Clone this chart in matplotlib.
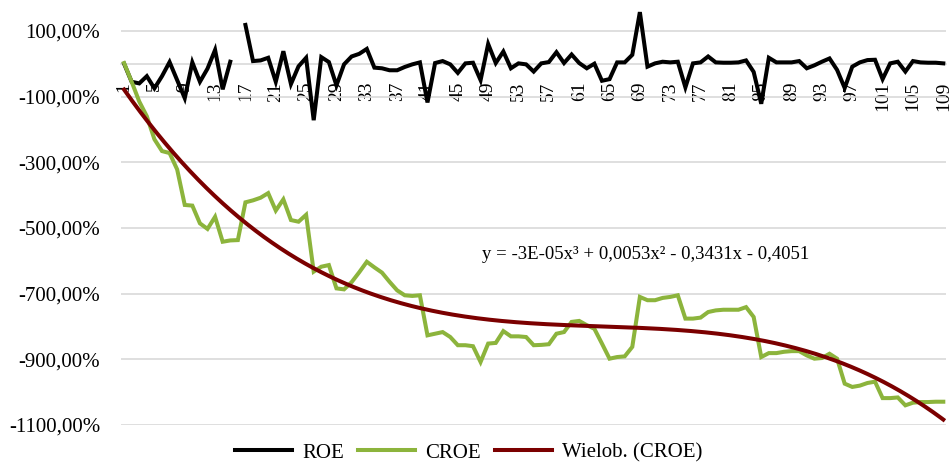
import numpy as np
import matplotlib
matplotlib.use("Agg")
import matplotlib.pyplot as plt

plt.rcParams['font.family'] = ['Liberation Serif', 'DejaVu Serif']

# data (values in %)
periods = list(range(1, 110))

roe = [0, -55, -60, -38, -75, -38, 5, -50, -105, 4,
       -55, -15, 42, -78, 6, np.nan, 118, 8, 10, 18,
       -55, 38, -62, -8, 18, -172, 20, 5, -66, -2,
       22, 30, 45, -12, -14, -20, -20, -10, -2, 4,
       -118, 2, 8, -2, -28, 1, 3, -50, 60, 2,
       37, -14, 1, -2, -24, 1, 5, 35, 2, 28,
       2, -14, 0, -52, -47, 4, 4, 27, 157, -9,
       1, 6, 4, 6, -72, 1, 4, 22, 4, 3,
       3, 4, 10, -25, -122, 18, 4, 4, 4, 8,
       -14, -5, 6, 16, -19, -74, -9, 4, 11, 12,
       -47, 1, 6, -24, 8, 4, 3, 3, 1]

croe = [2, -55, -115, -160, -230, -266, -272, -322, -430, -432,
        -486, -503, -466, -542, -538, -537, -422, -416, -408, -394,
        -447, -413, -476, -481, -460, -633, -618, -613, -684, -687,
        -665, -635, -603, -620, -636, -664, -690, -705, -707, -705,
        -827, -822, -817, -832, -857, -857, -860, -908, -852, -850,
        -814, -830, -830, -832, -857, -856, -854, -822, -817, -786,
        -783, -796, -807, -852, -898, -893, -891, -862, -710, -720,
        -720, -713, -710, -705, -776, -776, -773, -756, -751, -749,
        -749, -749, -741, -771, -893, -881, -881, -877, -875, -875,
        -888, -898, -896, -883, -898, -974, -984, -980, -972, -968,
        -1018, -1018, -1016, -1040, -1032, -1030, -1030, -1029, -1029]

x_ticks = list(range(1, 110, 4))
y_ticks = [100, -100, -300, -500, -700, -900, -1100]
equation = "y = -3E-05x³ + 0,0053x² - 0,3431x - 0,4051"

# cubic trend of CROE, like Excel's "Wielob." trendline
coef = np.polyfit(periods, croe, 3)
xs = np.linspace(1, 109, 400)
trend = np.polyval(coef, xs)

fig = plt.figure(figsize=(9.53, 4.62), dpi=100)
ax = fig.add_axes([0.127, 0.080, 0.866, 0.903])

ax.plot(periods, roe, color='black', lw=2.9, label='ROE', solid_joinstyle='miter')
ax.plot(periods, croe, color='#8cb43c', lw=2.9, label='CROE', solid_joinstyle='miter')
ax.plot(xs, trend, color='#7b0000', lw=2.9, label='Wielob. (CROE)')

# category axis crosses at 0 (set before the ticks, it resets them)
for s in ['top', 'right', 'left']:
    ax.spines[s].set_visible(False)
ax.spines['bottom'].set_position(('data', 0))
ax.spines['bottom'].set_color('#d9d9d9')
ax.spines['bottom'].set_linewidth(1.2)
ax.spines['bottom'].set_zorder(0.5)

ax.set_xlim(0.6, 109.4)
ax.set_ylim(-1100, 170)

ax.set_yticks(y_ticks)
ax.set_yticklabels([f"{v},00%" for v in y_ticks])
ax.grid(axis='y', color='#d9d9d9', lw=1.2)
ax.set_axisbelow(True)

ax.set_xticks(x_ticks)
ax.set_xticklabels([str(v) for v in x_ticks])
ax.tick_params(axis='x', length=0, pad=13, labelrotation=90, labelsize=14)
ax.tick_params(axis='y', length=0, pad=15, labelsize=15)

ax.text(69.8, -582, equation, fontsize=13.5, ha='center', va='center')

fig.legend(loc='lower center', bbox_to_anchor=(0.492, -0.042), ncol=3,
           frameon=False, fontsize=15, handlelength=2.7, columnspacing=0.7,
           handletextpad=0.5)

fig.savefig('out.png', dpi=100)
